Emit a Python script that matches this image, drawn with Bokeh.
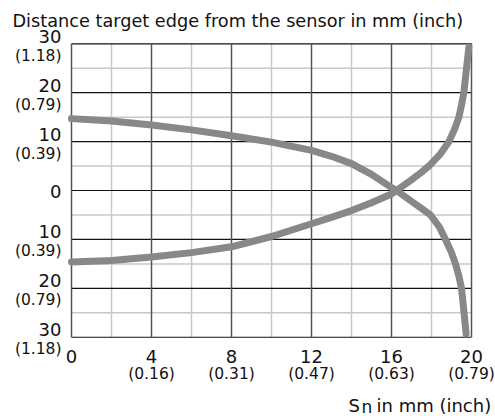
from bokeh.plotting import figure
from bokeh.models import Range1d, Label, LabelSet, ColumnDataSource
from bokeh.core.properties import value
from bokeh.embed import file_html
from bokeh.resources import INLINE

# ---- data ----
x_ticks = [0, 4, 8, 12, 16, 20]
x_minor = [2, 6, 10, 14, 18]
x_tick_mm = ["0", "4", "8", "12", "16", "20"]
x_tick_inch = ["", "(0.16)", "(0.31)", "(0.47)", "(0.63)", "(0.79)"]

y_ticks = [30, 20, 10, 0, -10, -20, -30]
y_minor = [25, 15, 5, -5, -15, -25]
y_tick_mm = ["30", "20", "10", "0", "10", "20", "30"]
y_tick_inch = ["(1.18)", "(0.79)", "(0.39)", "", "(0.39)", "(0.79)", "(1.18)"]

curve_a_x = [0, 2, 4, 6, 8, 10, 12, 13, 14, 15, 16, 16.25, 17.1, 17.53, 17.95, 18.4, 18.7, 18.98,
             19.2, 19.37, 19.5, 19.63, 19.73]
curve_a_y = [14.7, 14.2, 13.4, 12.4, 11.2, 9.9, 8.2, 7.0, 5.5, 3.3, 0.6, 0, -2.5, -3.75, -5, -7.5, -10, -12.5,
             -15, -17.5, -20, -25, -29.3]

curve_b_x = [0, 2, 4, 6, 8, 10, 12, 13, 14, 15, 16, 16.25, 17.1, 17.5, 17.87, 18.45, 18.87, 19.15,
             19.37, 19.5, 19.62, 19.75, 19.87]
curve_b_y = [-14.6, -14.3, -13.6, -12.7, -11.5, -9.4, -6.8, -5.5, -4.1, -2.5, -0.7, 0, 2.5, 3.75, 5, 7.5, 10, 12.5,
             15, 17.5, 20, 25, 29.3]

title_text = "Distance target edge from the sensor in mm (inch)"
xlabel_s, xlabel_n, xlabel_rest = "S", "n", "in mm (inch)"

FONT = "DejaVu Sans"
TXT = "#111111"

# canvas = frame; 20 px per mm, 4.89 px per unit in y
p = figure(width=495, height=416, x_range=Range1d(-3.55, 21.2), y_range=Range1d(-46.2, 38.85),
           output_backend="svg", toolbar_location=None, title=None,
           x_axis_location=None, y_axis_location=None,
           min_border=0, min_border_left=0, min_border_right=0, min_border_top=0, min_border_bottom=0)
p.outline_line_color = None
p.background_fill_color = "white"
p.border_fill_color = "white"
p.grid.visible = False

xmin, xmax = x_ticks[0], x_ticks[-1]
ymin, ymax = y_ticks[-1], y_ticks[0]

# minor grid
p.segment(x0=x_minor, y0=[ymin] * len(x_minor), x1=x_minor, y1=[ymax] * len(x_minor),
          line_color="#c8c8c8", line_width=1.5)
p.segment(x0=[xmin] * len(y_minor), y0=y_minor, x1=[xmax] * len(y_minor), y1=y_minor,
          line_color="#c8c8c8", line_width=1.5)
# major grid
p.segment(x0=[xmin] * len(y_ticks), y0=y_ticks, x1=[xmax] * len(y_ticks), y1=y_ticks,
          line_color="#111111", line_width=1.2)
p.segment(x0=x_ticks, y0=[ymin] * len(x_ticks), x1=x_ticks, y1=[ymax] * len(x_ticks),
          line_color="#555555", line_width=1.5)

# curves
p.line(curve_a_x, curve_a_y, line_color="#888888", line_width=7, line_join="round", line_cap="round")
p.line(curve_b_x, curve_b_y, line_color="#888888", line_width=7, line_join="round", line_cap="round")

# x tick labels
xnum = ColumnDataSource(dict(x=x_ticks, y=[ymin] * len(x_ticks), t=x_tick_mm))
xin = ColumnDataSource(dict(x=[v for v, s in zip(x_ticks, x_tick_inch) if s],
                            y=[ymin] * sum(1 for s in x_tick_inch if s),
                            t=[s for s in x_tick_inch if s]))
p.add_layout(LabelSet(x="x", y="y", text="t", source=xnum, text_align="center",
                      text_baseline="alphabetic", y_offset=-26, text_font=value(FONT),
                      text_font_size=value("18px"), text_color=TXT))
p.add_layout(LabelSet(x="x", y="y", text="t", source=xin, text_align="center",
                      text_baseline="alphabetic", y_offset=-42, text_font=value(FONT),
                      text_font_size=value("15.5px"), text_color=TXT))

# y tick labels
lab_x = -0.5
ynum = ColumnDataSource(dict(y=[v for v in y_ticks if v != 0],
                             t=[s for v, s in zip(y_ticks, y_tick_mm) if v != 0]))
ynum.data["x"] = [lab_x] * len(ynum.data["y"])
yzero = ColumnDataSource(dict(y=[v for v in y_ticks if v == 0],
                              t=[s for v, s in zip(y_ticks, y_tick_mm) if v == 0]))
yzero.data["x"] = [lab_x] * len(yzero.data["y"])
yin = ColumnDataSource(dict(y=[v for v, s in zip(y_ticks, y_tick_inch) if s],
                            t=[s for s in y_tick_inch if s]))
yin.data["x"] = [lab_x] * len(yin.data["y"])
p.add_layout(LabelSet(x="x", y="y", text="t", source=ynum, text_align="right",
                      text_baseline="alphabetic", y_offset=1, text_font=value(FONT),
                      text_font_size=value("18px"), text_color=TXT))
p.add_layout(LabelSet(x="x", y="y", text="t", source=yzero, text_align="right",
                      text_baseline="alphabetic", y_offset=-7, text_font=value(FONT),
                      text_font_size=value("18px"), text_color=TXT))
p.add_layout(LabelSet(x="x", y="y", text="t", source=yin, text_align="right",
                      text_baseline="alphabetic", y_offset=-17, text_font=value(FONT),
                      text_font_size=value("15.5px"), text_color=TXT))

# title and x-axis label
p.add_layout(Label(x=-2.95, y=34.56, text=title_text, text_align="left", text_baseline="alphabetic",
                   text_font=FONT, text_font_size="17.7px", text_color=TXT))
p.add_layout(Label(x=13.85, y=-43.95, text=xlabel_s, text_align="left", text_baseline="alphabetic",
                   text_font=FONT, text_font_size="18px", text_color=TXT))
p.add_layout(Label(x=14.5, y=-44.2, text=xlabel_n, text_align="left", text_baseline="alphabetic",
                   text_font=FONT, text_font_size="17px", text_color=TXT))
p.add_layout(Label(x=15.25, y=-43.95, text=xlabel_rest, text_align="left", text_baseline="alphabetic",
                   text_font=FONT, text_font_size="18px", text_color=TXT))

open("out.html", "w").write(file_html(p, INLINE))
